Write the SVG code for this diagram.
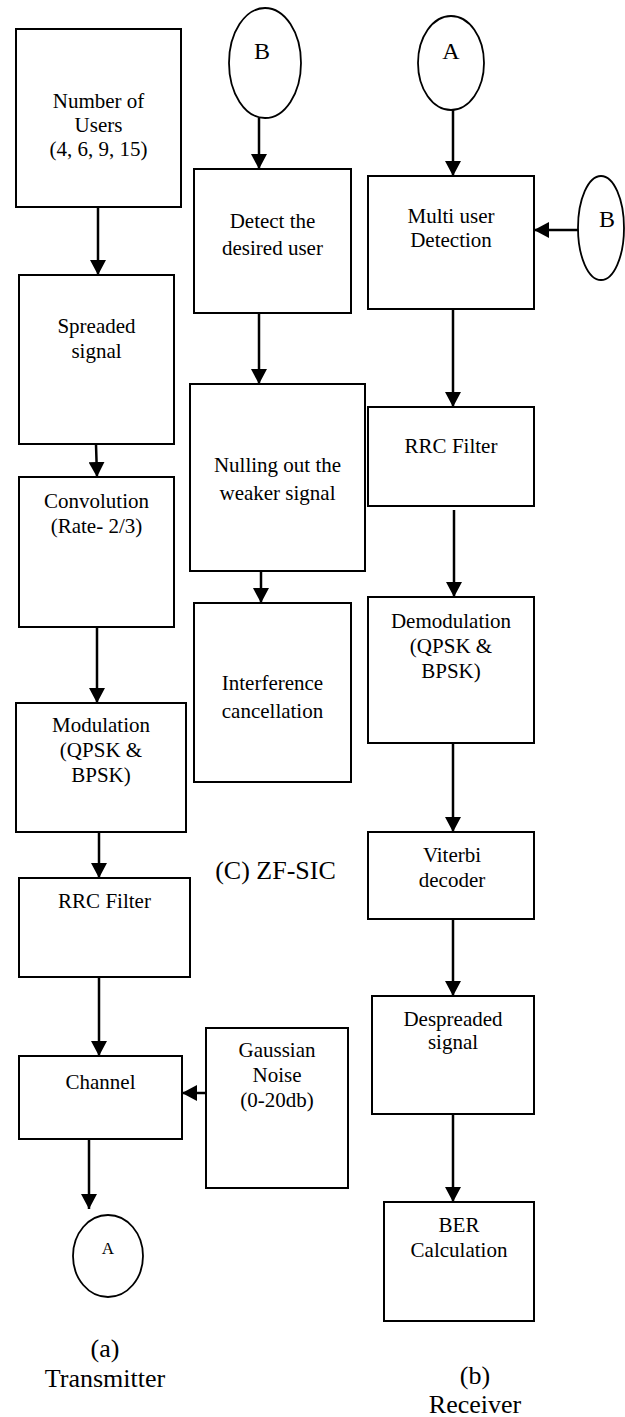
<svg xmlns="http://www.w3.org/2000/svg" width="625" height="1417" viewBox="0 0 625 1417" font-family="'Liberation Serif', 'Times New Roman', serif">
<style>
.box{fill:#fff;stroke:#000;stroke-width:2}
.ell{fill:#fff;stroke:#000;stroke-width:1.8}
text{font-family:'Liberation Serif','Times New Roman',serif}
.t{font-size:21px;fill:#000;text-anchor:middle}
.big{font-size:26px}
.let{font-size:24px}
.sm{font-size:17px}
.c{stroke:#000;stroke-width:2.5;fill:none;marker-end:url(#ah)}
</style>
<defs>
<marker id="ah" markerUnits="userSpaceOnUse" markerWidth="15" markerHeight="16" refX="15" refY="8" orient="auto">
<path d="M0,0 L15,8 L0,16 z" fill="#000"/>
</marker>
</defs>
<rect width="625" height="1417" fill="#fff"/>

<g id="connectors">
<line class="c" x1="98" y1="207" x2="98" y2="275"/>
<line class="c" x1="96" y1="444" x2="97" y2="477"/>
<line class="c" x1="97" y1="627" x2="97" y2="703"/>
<line class="c" x1="99" y1="832" x2="99" y2="878"/>
<line class="c" x1="99" y1="977" x2="99" y2="1056"/>
<line class="c" x1="206" y1="1093" x2="182" y2="1093"/>
<line class="c" x1="89" y1="1139" x2="89" y2="1209"/>
<line class="c" x1="259" y1="118" x2="259" y2="169"/>
<line class="c" x1="259" y1="313" x2="259" y2="384"/>
<line class="c" x1="261" y1="564" x2="261" y2="603"/>
<line class="c" x1="453" y1="110" x2="453" y2="176"/>
<line class="c" x1="578" y1="230" x2="534" y2="230"/>
<line class="c" x1="453" y1="309" x2="453" y2="407"/>
<line class="c" x1="454" y1="510" x2="454" y2="597"/>
<line class="c" x1="453" y1="743" x2="453" y2="832"/>
<line class="c" x1="453" y1="919" x2="453" y2="996"/>
<line class="c" x1="453" y1="1114" x2="453" y2="1202"/>
</g>

<g id="number-of-users">
<rect class="box" x="16" y="29" width="165" height="178"/>
<text class="t" x="98.5" y="108">Number of</text>
<text class="t" x="98.5" y="132">Users</text>
<text class="t" x="98.5" y="156">(4, 6, 9, 15)</text>
</g>
<g id="spreaded">
<rect class="box" x="19" y="275" width="155" height="169"/>
<text class="t" x="96.5" y="333">Spreaded</text>
<text class="t" x="96.5" y="358">signal</text>
</g>
<g id="convolution">
<rect class="box" x="19" y="477" width="155" height="150"/>
<text class="t" x="96.5" y="508">Convolution</text>
<text class="t" x="96.5" y="533">(Rate- 2/3)</text>
</g>
<g id="modulation">
<rect class="box" x="16" y="703" width="170" height="129"/>
<text class="t" x="101" y="732">Modulation</text>
<text class="t" x="101" y="757">(QPSK &amp;</text>
<text class="t" x="101" y="782">BPSK)</text>
</g>
<g id="rrc-tx">
<rect class="box" x="19" y="878" width="171" height="99"/>
<text class="t" x="104.5" y="908">RRC Filter</text>
</g>
<g id="channel">
<rect class="box" x="19" y="1056" width="163" height="83"/>
<text class="t" x="100.5" y="1089">Channel</text>
</g>
<g id="gaussian">
<rect class="box" x="206" y="1028" width="142" height="160"/>
<text class="t" x="277" y="1057">Gaussian</text>
<text class="t" x="277" y="1082">Noise</text>
<text class="t" x="277" y="1107">(0-20db)</text>
</g>
<g id="a-tx">
<ellipse class="ell" cx="108" cy="1256" rx="35" ry="41"/>
<text class="t sm" x="108" y="1254">A</text>
</g>
<g id="caption-a">
<text class="t big" x="105" y="1357">(a)</text>
<text class="t big" x="105" y="1387">Transmitter</text>
</g>

<g id="b-top">
<ellipse class="ell" cx="265" cy="63" rx="36" ry="55"/>
<text class="t let" x="262" y="59">B</text>
</g>
<g id="detect">
<rect class="box" x="194" y="169" width="157" height="144"/>
<text class="t" x="272.5" y="228">Detect the</text>
<text class="t" x="272.5" y="255">desired user</text>
</g>
<g id="nulling">
<rect class="box" x="190" y="384" width="175" height="187"/>
<text class="t" x="277.5" y="472">Nulling out the</text>
<text class="t" x="277.5" y="500">weaker signal</text>
</g>
<g id="interference">
<rect class="box" x="194" y="603" width="157" height="179"/>
<text class="t" x="272.5" y="690">Interference</text>
<text class="t" x="272.5" y="718">cancellation</text>
</g>
<g id="caption-c">
<text class="t big" x="275.5" y="879">(C) ZF-SIC</text>
</g>

<g id="a-top">
<ellipse class="ell" cx="451" cy="63" rx="33" ry="47"/>
<text class="t let" x="451" y="59">A</text>
</g>
<g id="multi-user">
<rect class="box" x="368" y="176" width="166" height="133"/>
<text class="t" x="451" y="223">Multi user</text>
<text class="t" x="451" y="247">Detection</text>
</g>
<g id="b-right">
<ellipse class="ell" cx="601" cy="228" rx="23" ry="52"/>
<text class="t let" x="607" y="227">B</text>
</g>
<g id="rrc-rx">
<rect class="box" x="368" y="407" width="166" height="99"/>
<text class="t" x="451" y="453">RRC Filter</text>
</g>
<g id="demodulation">
<rect class="box" x="368" y="597" width="166" height="146"/>
<text class="t" x="451" y="628">Demodulation</text>
<text class="t" x="451" y="653">(QPSK &amp;</text>
<text class="t" x="451" y="678">BPSK)</text>
</g>
<g id="viterbi">
<rect class="box" x="368" y="832" width="166" height="87"/>
<text class="t" x="452" y="862">Viterbi</text>
<text class="t" x="452" y="887">decoder</text>
</g>
<g id="despreaded">
<rect class="box" x="372" y="996" width="162" height="118"/>
<text class="t" x="453" y="1026">Despreaded</text>
<text class="t" x="453" y="1049">signal</text>
</g>
<g id="ber">
<rect class="box" x="384" y="1202" width="150" height="119"/>
<text class="t" x="459" y="1232">BER</text>
<text class="t" x="459" y="1257">Calculation</text>
</g>
<g id="caption-b">
<text class="t big" x="475" y="1384">(b)</text>
<text class="t big" x="475" y="1413">Receiver</text>
</g>
</svg>
